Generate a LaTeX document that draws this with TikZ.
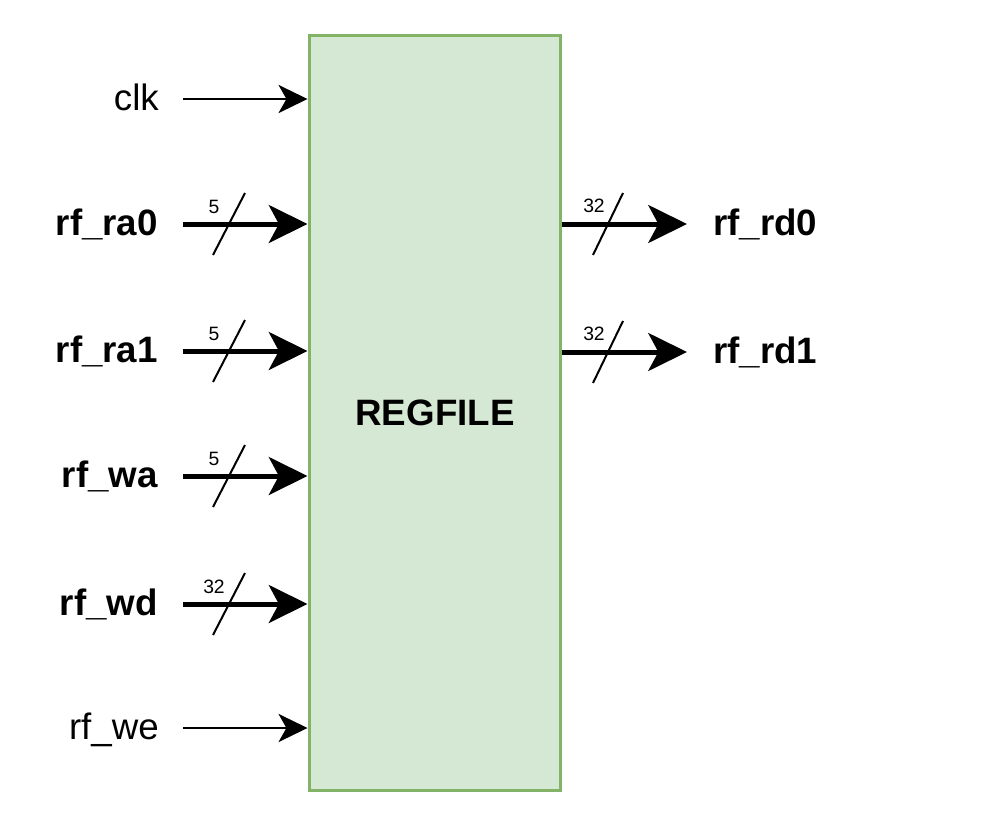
\documentclass[tikz,border=0pt]{standalone}
\usepackage{fontspec}
\setmainfont{Liberation Sans}
\usetikzlibrary{arrows.meta}
\definecolor{rffill}{HTML}{D5E8D4}
\definecolor{rfline}{HTML}{82B366}

\begin{document}
\begin{tikzpicture}[x=0.02cm, y=-0.02cm,
  wire/.style={line width=0.04cm, -{Stealth[length=16.5pt, width=16pt, inset=4.5pt]}},
  bus/.style={line width=0.1cm, -{Stealth[length=22pt, width=21.5pt, inset=5.7pt]}},
  cut/.style={line width=0.04cm},
  big/.style={font=\fontsize{20.9}{25}\selectfont},
  bigb/.style={font=\fontsize{20.9}{25}\selectfont\bfseries},
  tiny/.style={font=\fontsize{11}{13}\selectfont, inner sep=0}]
\useasboundingbox (0,0) rectangle (1002,822);

% First, define nodes
\node[draw=rfline, fill=rffill, line width=0.06cm, minimum width=5.04cm,
  minimum height=15.12cm, inner sep=0, bigb] (rf) at (435,413) {REGFILE};

% single wires
\node[big, anchor=east] (clk) at (165,97) {clk};
\coordinate (tclk) at (183,99);
\draw[wire] (tclk) -- (tclk -| rf.west);

\node[big, anchor=east] (we) at (165,730) {rf\_we};
\coordinate (twe) at (183,728);
\draw[wire] (twe) -- (twe -| rf.west);

% input buses, with the width written over the cut
\foreach \nm/\yy/\w in {ra0/224/5, ra1/351/5, wa/476/5, wd/604/32} {
  \node[bigb, anchor=east] (\nm) at (164,\yy) {rf\_\nm};
  \coordinate (t\nm) at (183,\yy);
  \draw[bus] (t\nm) -- (t\nm -| rf.west);
  \draw[cut] (213,\yy+31) -- (245,\yy-31);
  \node[tiny] (w\nm) at (214,\yy-17) {\w};
}

% output buses
\foreach \nm/\yy in {rd0/224, rd1/352} {
  \node[bigb, anchor=west] (\nm) at (707,\yy) {rf\_\nm};
  \coordinate (s\nm) at (rf.east |- \nm.west);
  \draw[bus] (s\nm) -- (\nm.west -| 687,0);
  \draw[cut] (593,\yy+31) -- (623,\yy-31);
  \node[tiny] (w\nm) at (594,\yy-18) {32};
}

\end{tikzpicture}
\end{document}
